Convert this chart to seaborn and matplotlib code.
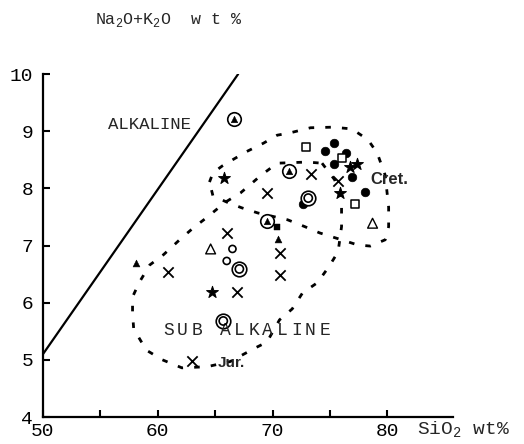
import matplotlib
matplotlib.use("Agg")
import matplotlib.pyplot as plt
import seaborn as sns

# alkaline / sub-alkaline dividing line
div_x = [50.0, 67.0]
div_y = [5.1, 10.0]

# Cretaceous field outline
cret_x = [64.5, 64.8, 65.6, 66.6, 67.7, 69.2, 70.4, 71.5, 73.3, 75.2, 76.9, 78.3, 79.1, 79.8,
          80.1, 80.1, 79.8, 78.5, 77.4, 76.0, 75.2, 74.1, 72.8, 71.3, 68.7, 67.3, 66.0, 64.8, 64.5]
cret_y = [8.11, 8.27, 8.39, 8.51, 8.64, 8.79, 8.93, 8.97, 9.06, 9.07, 9.04, 8.85, 8.62, 8.23,
          7.67, 7.33, 7.10, 6.99, 7.01, 7.10, 7.15, 7.22, 7.33, 7.45, 7.57, 7.66, 7.76, 7.87, 8.11]

# Jurassic field outline
jur_x = [74.3, 75.4, 76.0, 76.0, 75.7, 74.9, 73.9, 72.6, 71.7, 70.6, 69.5, 68.5, 66.3, 64.3,
         62.1, 60.4, 59.0, 57.9, 57.8, 57.8, 58.4, 59.3, 60.5, 61.9, 63.1, 64.2, 65.9, 67.2,
         67.9, 69.0, 70.4, 73.0, 74.3]
jur_y = [8.44, 8.15, 7.74, 7.33, 6.89, 6.63, 6.35, 6.17, 5.89, 5.70, 5.31, 5.21, 4.97, 4.88,
         4.86, 5.00, 5.17, 5.54, 5.82, 6.10, 6.36, 6.66, 6.84, 7.10, 7.31, 7.48, 7.76, 7.92,
         8.04, 8.23, 8.44, 8.46, 8.44]

# samples, grouped by symbol
dot_x = [75.35, 74.6, 76.4, 75.3, 76.9, 78.0, 72.6]
dot_y = [8.79, 8.65, 8.62, 8.43, 8.2, 7.94, 7.73]
sq_x = [72.9, 76.0, 77.2]
sq_y = [8.72, 8.53, 7.73]
star_x = [76.7, 77.35, 75.9, 65.8, 64.7]
star_y = [8.37, 8.43, 7.92, 8.18, 6.19]
cross_x = [75.7, 73.3, 69.5, 66.0, 70.6, 70.6, 60.9, 66.9, 63.0]
cross_y = [8.13, 8.25, 7.92, 7.22, 6.87, 6.49, 6.54, 6.19, 4.98]
ctri_x = [66.6, 71.4, 69.5]
ctri_y = [9.21, 8.30, 7.43]
dcirc_x = [73.1, 67.1, 65.7]
dcirc_y = [7.83, 6.59, 5.68]
otri_x = [78.7, 64.6]
otri_y = [7.39, 6.94]
ocirc_x = [66.5, 66.0]
ocirc_y = [6.94, 6.73]
stri_x = [70.5, 58.1]
stri_y = [7.12, 6.70]
ssq_x = [70.4]
ssq_y = [7.33]

sns.set_style("ticks")
plt.rcParams['font.family'] = ['Liberation Mono', 'DejaVu Sans']
plt.rcParams['mathtext.fontset'] = 'custom'
plt.rcParams['mathtext.rm'] = 'Liberation Mono'

fig = plt.figure(figsize=(5.24, 4.44), dpi=100)
ax = fig.add_axes([0.082, 0.0608, 0.7824, 0.7725])

k = 'black'
sns.lineplot(x=div_x, y=div_y, ax=ax, color=k, lw=1.6, sort=False, estimator=None)
dash = (0, (2.0, 4.0))
sns.lineplot(x=cret_x, y=cret_y, ax=ax, color=k, lw=2, sort=False, estimator=None, linestyle=dash)
sns.lineplot(x=jur_x, y=jur_y, ax=ax, color=k, lw=2, sort=False, estimator=None, linestyle=dash)

sns.scatterplot(x=dot_x, y=dot_y, ax=ax, marker='o', s=38, color=k, edgecolor=k, zorder=3)
sns.scatterplot(x=sq_x, y=sq_y, ax=ax, marker='s', s=28, facecolor='white', edgecolor=k, linewidth=1.1, zorder=3)
sns.scatterplot(x=star_x, y=star_y, ax=ax, marker='*', s=80, color=k, edgecolor=k, zorder=3)
sns.scatterplot(x=cross_x, y=cross_y, ax=ax, marker='x', s=55, color=k, linewidth=1.3, zorder=3)
sns.scatterplot(x=ctri_x, y=ctri_y, ax=ax, marker='o', s=95, facecolor='white', edgecolor=k, linewidth=1.2, zorder=3)
sns.scatterplot(x=ctri_x, y=ctri_y, ax=ax, marker='^', s=22, color=k, edgecolor=k, zorder=4)
sns.scatterplot(x=dcirc_x, y=dcirc_y, ax=ax, marker='o', s=110, facecolor='white', edgecolor=k, linewidth=1.2, zorder=3)
sns.scatterplot(x=dcirc_x, y=dcirc_y, ax=ax, marker='o', s=35, facecolor='none', edgecolor=k, linewidth=1.2, zorder=4)
sns.scatterplot(x=otri_x, y=otri_y, ax=ax, marker='^', s=50, facecolor='none', edgecolor=k, linewidth=1.0, zorder=3)
sns.scatterplot(x=ocirc_x, y=ocirc_y, ax=ax, marker='o', s=26, facecolor='none', edgecolor=k, linewidth=1.2, zorder=3)
sns.scatterplot(x=stri_x, y=stri_y, ax=ax, marker='^', s=24, color=k, edgecolor=k, zorder=3)
sns.scatterplot(x=ssq_x, y=ssq_y, ax=ax, marker='s', s=16, color=k, edgecolor=k, zorder=3)

ax.set_xlim(50, 85.7)
ax.set_ylim(4, 10)
ax.set_xticks([50, 55, 60, 65, 70, 75, 80])
ax.set_xticklabels(['50', '', '60', '', '70', '', '80'])
ax.set_yticks([4, 5, 6, 7, 8, 9, 10])
ax.tick_params(direction='in', length=5, width=1.5, labelsize=14, colors=k)
ax.tick_params(axis='y', pad=7)
ax.tick_params(axis='x', pad=4)
sns.despine(ax=ax)
for sp in ['left', 'bottom']:
    ax.spines[sp].set_linewidth(1.6)
    ax.spines[sp].set_color(k)

ax.text(55.66, 9.12, 'ALKALINE', fontsize=12.5, va='center', ha='left')
sub = 'SUB ALKALINE'
for i, ch in enumerate(sub):
    ax.text(60.45 + i * 1.237, 5.52, ch, fontsize=13, va='center', ha='left')
ax.text(78.5, 8.16, 'Cret.', fontsize=12, fontweight='bold', family='Liberation Sans',
        va='center', ha='left')
ax.text(65.2, 4.95, 'Jur.', fontsize=11, fontweight='bold', family='Liberation Sans',
        va='center', ha='left')

fig.text(95 / 524, 1 - 20 / 444, r'Na$_\mathregular{2}$O+K$_\mathregular{2}$O  w t %',
         fontsize=12, va='center', ha='left')
fig.text(417 / 524, 1 - 430 / 444, r'SiO$_\mathregular{2}$ wt%', fontsize=14,
         va='center', ha='left')

fig.savefig('out.png', dpi=100)
